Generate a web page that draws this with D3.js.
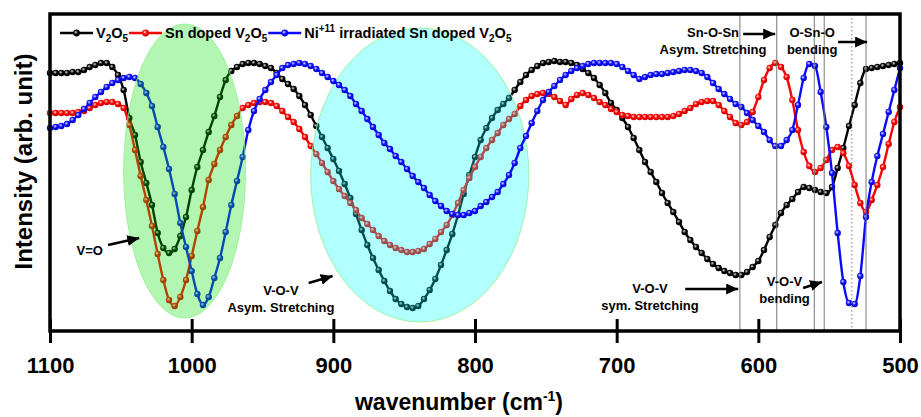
<!DOCTYPE html>
<html>
<head>
<script src="https://cdnjs.cloudflare.com/ajax/libs/d3/7.8.5/d3.min.js"></script>
<title>FTIR V2O5</title>
<style>
    html, body {
        margin: 0;
        background: #fff;
    }
    #chart {
        display: block;
        font-family: "Liberation Sans", Arial, sans-serif;
        font-weight: bold;
    }
</style>
</head>
<body>
<svg id="chart" width="921" height="417"></svg>
<script>
// spectra sampled every 4 cm-1, from 1100 down to 500
var wavenumbers = d3.range(1100, 499, -4);

var v2o5 = [
    25.8, 25.8, 25.8, 25.8, 25.9, 25.9, 26.1, 26.4, 26.6, 26.8,
    26.8, 26.4, 25.6, 24.1, 21.3, 19.6, 16.9, 14.8, 12.6, 9.8,
    8.3, 7.8, 8.2, 9.5, 11.4, 14.1, 16.4, 18.1, 19.9, 21.5,
    23.4, 25.1, 26.0, 26.4, 26.7, 26.8, 26.8, 26.7, 26.5, 26.3,
    25.8, 25.2, 24.7, 24.2, 23.5, 22.6, 21.6, 20.5, 19.4, 18.3,
    17.2, 16.0, 14.7, 13.3, 11.7, 10.1, 8.6, 7.3, 6.1, 5.0,
    4.0, 3.2, 2.7, 2.4, 2.3, 2.5, 3.2, 4.1, 5.2, 6.6,
    8.1, 9.7, 11.6, 13.7, 15.6, 17.4, 19.1, 20.3, 21.3, 22.1,
    22.7, 23.3, 24.1, 24.9, 25.6, 26.1, 26.5, 26.8, 26.9, 27.0,
    26.9, 26.9, 26.8, 26.6, 26.2, 25.8, 25.3, 24.6, 23.8, 22.8,
    22.1, 21.3, 20.4, 19.3, 18.1, 16.9, 15.9, 14.9, 13.8, 12.8,
    11.9, 10.9, 9.9, 9.1, 8.4, 7.8, 7.2, 6.7, 6.3, 6.0,
    5.8, 5.6, 5.6, 5.9, 6.4, 7.0, 8.1, 9.4, 10.6, 11.8,
    12.6, 13.2, 13.9, 14.4, 14.3, 14.1, 13.9, 13.8, 14.4, 16.3,
    18.3, 20.5, 22.6, 24.8, 26.2, 26.3, 26.4, 26.5, 26.6, 26.7,
    26.8
];

var snDoped = [
    21.8, 21.8, 21.8, 21.8, 21.8, 21.9, 22.0, 22.3, 22.6, 22.8,
    22.9, 22.9, 22.7, 22.3, 20.6, 18.1, 15.5, 13.1, 10.5, 7.7,
    5.1, 3.1, 2.5, 3.4, 5.1, 7.5, 10.0, 12.4, 15.1, 16.7,
    18.1, 19.4, 20.6, 21.5, 22.3, 22.6, 22.8, 22.9, 22.9, 22.8,
    22.5, 22.0, 21.4, 20.9, 20.2, 19.4, 18.5, 17.7, 16.8, 15.9,
    15.0, 14.2, 13.5, 12.8, 12.1, 11.3, 10.7, 10.1, 9.5, 9.0,
    8.6, 8.3, 8.1, 7.9, 7.9, 8.0, 8.2, 8.7, 9.2, 9.9,
    10.6, 11.6, 12.8, 14.1, 15.3, 16.4, 17.4, 18.3, 19.1, 19.8,
    20.6, 21.2, 21.7, 22.5, 23.1, 23.5, 23.7, 23.8, 23.7, 23.4,
    23.0, 22.6, 23.2, 23.6, 23.8, 23.6, 23.3, 22.9, 22.6, 22.2,
    21.9, 21.6, 21.5, 21.4, 21.4, 21.4, 21.4, 21.4, 21.4, 21.4,
    21.5, 21.7, 22.0, 22.3, 22.7, 22.9, 23.0, 23.0, 22.6, 22.0,
    21.4, 20.8, 20.6, 20.9, 21.9, 23.4, 25.1, 26.3, 26.8, 26.4,
    25.4, 23.1, 20.1, 17.9, 16.5, 15.9, 16.3, 17.1, 18.1, 18.4,
    17.8, 16.5, 14.6, 12.8, 11.9, 13.1, 14.6, 16.4, 18.7, 20.9,
    22.4
];

var niIrradiated = [
    20.3, 20.4, 20.5, 20.7, 21.1, 21.6, 22.2, 22.8, 23.4, 23.9,
    24.4, 24.8, 25.1, 25.3, 25.4, 25.3, 24.7, 23.8, 22.5, 20.4,
    18.4, 16.2, 13.7, 10.8, 8.4, 6.0, 3.7, 2.6, 3.4, 5.3,
    7.3, 9.9, 12.6, 15.0, 17.4, 20.1, 22.0, 23.2, 24.1, 24.9,
    25.6, 26.3, 26.6, 26.7, 26.8, 26.7, 26.5, 26.2, 25.8, 25.4,
    25.0, 24.6, 24.1, 23.5, 22.7, 22.0, 21.2, 20.4, 19.6, 18.8,
    18.2, 17.5, 16.9, 16.2, 15.5, 14.9, 14.3, 13.6, 13.0, 12.5,
    12.0, 11.7, 11.6, 11.6, 11.8, 12.0, 12.5, 12.9, 13.4, 13.9,
    14.7, 15.6, 16.8, 18.3, 19.5, 20.8, 22.0, 23.1, 23.9, 24.5,
    25.1, 25.6, 26.0, 26.3, 26.5, 26.7, 26.8, 26.8, 26.8, 26.8,
    26.7, 26.4, 26.0, 25.6, 25.2, 25.4, 25.6, 25.7, 25.7, 25.8,
    25.9, 26.0, 26.1, 26.1, 26.0, 25.8, 25.4, 24.8, 24.2, 23.7,
    23.2, 22.7, 22.4, 21.8, 21.1, 20.5, 19.9, 19.1, 18.5, 18.5,
    19.1, 20.1, 22.6, 25.3, 26.7, 26.5, 23.9, 20.4, 15.8, 9.8,
    4.9, 2.8, 2.7, 5.5, 11.4, 14.9, 17.5, 19.7, 21.9, 24.1,
    26.3
];

var xTicks = [1100, 1000, 900, 800, 700, 600, 500];

// band positions marked with thin vertical lines
var bandLines = [613, 587, 560.5, 553.5, 524];
var dottedBands = [534];

// shaded regions: centre wavenumber, half width, centre intensity, half height
var greenRegion = [1005, 43, 16.0, 14.7];
var cyanRegion = [839, 77, 15.6, 14.7];

var labelTexts = [
    ["V=O"],
    ["V-O-V", "Asym. Stretching"],
    ["V-O-V", "sym. Stretching"],
    ["V-O-V", "bending"],
    ["Sn-O-Sn", "Asym. Stretching"],
    ["O-Sn-O", "bending"]
];
var labelAt = [[1072, 7.6], [937, 3.6], [676.5, 3.8], [581.5, 4.5], [632, 29.4], [562, 29.4]];
var arrowFromTo = [
    [1059, 8.6, 1037, 9.3],
    [917.4, 4.8, 900.5, 5.5],
    [651.6, 4.2, 614.2, 4.2],
    [568.4, 4.3, 555, 4.9],
    [610.7, 29.7, 588.1, 29.7],
    [543.7, 28.9, 523.2, 28.9]
];

var legendParts = [
    [["V", 0], ["2", -1], ["O", 0], ["5", -1]],
    [["Sn doped V", 0], ["2", -1], ["O", 0], ["5", -1]],
    [["Ni", 0], ["+11", 1], [" irradiated Sn doped V", 0], ["2", -1], ["O", 0], ["5", -1]]
];
var seriesColors = ["#000000", "#ff0000", "#0a0aff"];

var plotLeft = 50, plotRight = 900, plotTop = 14, plotBottom = 331;

var x = d3.scaleLinear().domain([1100, 500]).range([plotLeft, plotRight]);
var y = d3.scaleLinear().domain([0, 31.7]).range([plotBottom, plotTop]);

var svg = d3.select("#chart");
var defs = svg.append("defs");

function ballGradient(id, color) {
    var g = defs.append("radialGradient").attr("id", id)
        .attr("cx", "40%").attr("cy", "38%").attr("r", "62%");
    g.append("stop").attr("offset", "0%").attr("stop-color", d3.interpolateRgb(color, "#fff")(0.85));
    g.append("stop").attr("offset", "50%").attr("stop-color", color);
    g.append("stop").attr("offset", "100%").attr("stop-color", d3.color(color).darker(0.7));
}
seriesColors.forEach(function(c, i) { ballGradient("ball" + i, c); });

defs.append("marker").attr("id", "head")
    .attr("markerUnits", "userSpaceOnUse")
    .attr("markerWidth", 12).attr("markerHeight", 11)
    .attr("refX", 12).attr("refY", 5.5)
    .attr("orient", "auto")
    .append("path").attr("d", "M0,0 L12,5.5 L0,11 Z").attr("fill", "#000");

var line = d3.line()
    .x(function(d) { return x(d[0]); })
    .y(function(d) { return y(d[1]); })
    .curve(d3.curveMonotoneX);

function drawSeries(values, i) {
    var pts = wavenumbers.map(function(w, k) { return [w, values[k]]; });
    var g = svg.append("g");
    g.append("path").datum(pts)
        .attr("d", line)
        .attr("fill", "none")
        .attr("stroke", seriesColors[i])
        .attr("stroke-width", 2.4);
    g.selectAll("circle").data(pts).enter().append("circle")
        .attr("cx", function(d) { return x(d[0]); })
        .attr("cy", function(d) { return y(d[1]); })
        .attr("r", 3.2)
        .attr("fill", "url(#ball" + i + ")");
}

function drawRegion(r, fill) {
    svg.append("ellipse")
        .attr("cx", x(r[0]))
        .attr("cy", y(r[2]))
        .attr("rx", Math.abs(x(r[0] + r[1]) - x(r[0])))
        .attr("ry", Math.abs(y(r[2] + r[3]) - y(r[2])))
        .attr("fill", fill)
        .attr("fill-opacity", 0.3)
        .attr("stroke", "#8ff08f")
        .attr("stroke-opacity", 0.8)
        .attr("stroke-width", 1);
}

drawSeries(v2o5, 0);
drawSeries(snDoped, 1);
drawRegion(cyanRegion, "rgb(0,255,255)");
drawSeries(niIrradiated, 2);
drawRegion(greenRegion, "rgb(0,225,0)");

// band marker lines
svg.selectAll(".band").data(bandLines).enter().append("line")
    .attr("x1", function(d) { return x(d); }).attr("x2", function(d) { return x(d); })
    .attr("y1", plotTop).attr("y2", plotBottom)
    .attr("stroke", "#777").attr("stroke-width", 1);
svg.selectAll(".dband").data(dottedBands).enter().append("line")
    .attr("x1", function(d) { return x(d); }).attr("x2", function(d) { return x(d); })
    .attr("y1", plotTop).attr("y2", plotBottom)
    .attr("stroke", "#777").attr("stroke-width", 1)
    .attr("stroke-dasharray", "1.5,2.5");

// axis, ticks crossing the bottom line
var xAxis = svg.append("g")
    .attr("transform", "translate(0," + plotBottom + ")")
    .call(d3.axisBottom(x).tickValues(xTicks).tickSize(12).tickSizeOuter(0).tickPadding(14).tickFormat(d3.format("d")));
svg.append("g")
    .attr("transform", "translate(0," + plotBottom + ")")
    .call(d3.axisBottom(x).tickValues(xTicks).tickSize(-12).tickSizeOuter(0).tickFormat(""))
    .select(".domain").remove();
svg.selectAll(".tick line").attr("stroke", "#000").attr("stroke-width", 3);
xAxis.select(".domain").remove();
xAxis.selectAll("text")
    .attr("fill", "#000")
    .style("font-size", "22px")
    .style("font-weight", "bold")
    .style("font-family", "'Liberation Sans', Arial, sans-serif");

svg.append("rect")
    .attr("x", plotLeft).attr("y", plotTop)
    .attr("width", plotRight - plotLeft).attr("height", plotBottom - plotTop)
    .attr("fill", "none").attr("stroke", "#000").attr("stroke-width", 3.5);

// axis titles
var xt = svg.append("text")
    .attr("x", 459).attr("y", 410)
    .attr("text-anchor", "middle")
    .style("font-size", "23px");
xt.append("tspan").text("wavenumber (cm");
xt.append("tspan").attr("dy", -9).style("font-size", "14px").text("-1");
xt.append("tspan").attr("dy", 9).text(")");

svg.append("text")
    .attr("transform", "translate(32," + ((plotTop + plotBottom) / 2 - 11) + ") rotate(-90)")
    .attr("text-anchor", "middle")
    .style("font-size", "24px")
    .text("Intensity (arb. unit)");

// annotations
labelTexts.forEach(function(lines, i) {
    var t = svg.append("text")
        .attr("x", x(labelAt[i][0]))
        .attr("y", y(labelAt[i][1]))
        .attr("text-anchor", "middle")
        .style("font-size", "13px");
    lines.forEach(function(s, k) {
        t.append("tspan")
            .attr("x", x(labelAt[i][0]))
            .attr("dy", k === 0 ? 0 : 16.5)
            .text(s);
    });
});

svg.selectAll(".arrow").data(arrowFromTo).enter().append("line")
    .attr("x1", function(d) { return x(d[0]); })
    .attr("y1", function(d) { return y(d[1]); })
    .attr("x2", function(d) { return x(d[2]); })
    .attr("y2", function(d) { return y(d[3]); })
    .attr("stroke", "#000").attr("stroke-width", 2.5)
    .attr("marker-end", "url(#head)");

// legend
var lx = 60, ly = 33;
legendParts.forEach(function(parts, i) {
    svg.append("line")
        .attr("x1", lx).attr("x2", lx + 33)
        .attr("y1", ly).attr("y2", ly)
        .attr("stroke", seriesColors[i]).attr("stroke-width", 2.4);
    svg.append("circle")
        .attr("cx", lx + 16.5).attr("cy", ly).attr("r", 3.4)
        .attr("fill", "url(#ball" + i + ")");
    var t = svg.append("text")
        .attr("x", lx + 36).attr("y", ly + 5)
        .style("font-size", "14.5px");
    var shift = 0;
    parts.forEach(function(p) {
        var target = p[1] === -1 ? 4 : (p[1] === 1 ? -6 : 0);
        t.append("tspan")
            .attr("dy", target - shift)
            .style("font-size", p[1] === 0 ? "14.5px" : "10px")
            .text(p[0]);
        shift = target;
    });
    lx = lx + 36 + t.node().getComputedTextLength() + 1;
});
</script>
</body>
</html>
